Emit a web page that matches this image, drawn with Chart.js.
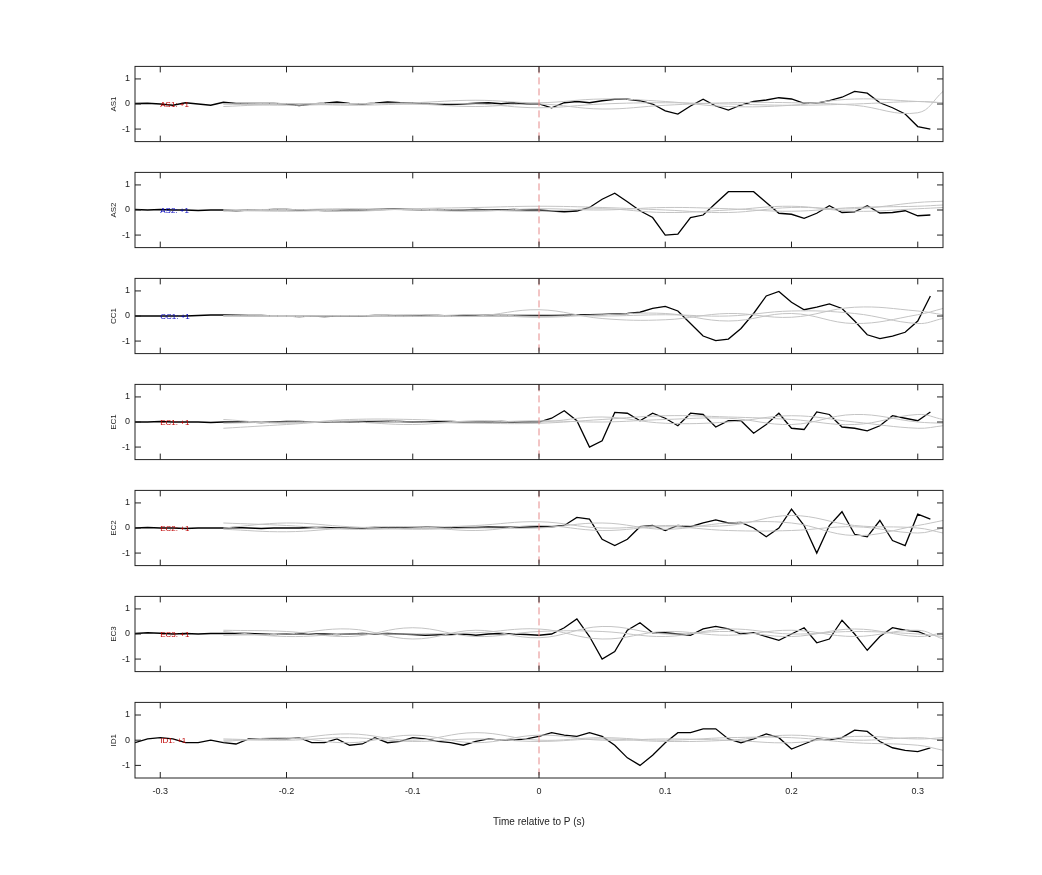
<!DOCTYPE html>
<html>
<head>
<meta charset="utf-8">
<script src="https://cdn.jsdelivr.net/npm/chart.js@4/dist/chart.umd.min.js"></script>
<style>
  body { margin: 0; background: #fff; }
  .panel { position: absolute; left: 0; width: 1042px; }
</style>
</head>
<body>
<div id="wrap"></div>
<script>
// station names and label colours
const stations = ['AS1', 'AS2', 'CC1', 'EC1', 'EC2', 'EC3', 'ID1'];
const labelColors = ['#c00000', '#0000c0', '#0000c0', '#c00000', '#c00000', '#c00000', '#c00000'];
const xTicks = [-0.3, -0.2, -0.1, 0, 0.1, 0.2, 0.3];
const yTicks = [-1, 0, 1];

// sample times -0.32 .. 0.31 in steps of 0.01
const times = Array.from({ length: 64 }, (_, i) => Math.round((i - 32)) / 100);

// black traces (64 values each)
const traceAS1 = [0.02, 0.03, 0.0, -0.05, 0.05, 0.0, -0.05, 0.07, 0.02, 0.02, 0.02, 0.02, 0.0, -0.06, 0.0, 0.03, 0.08, 0.02, 0.0, 0.03, 0.08, 0.05, 0.04, 0.02, 0.0, -0.02, 0.0, 0.03, 0.05, 0.01, 0.05, 0.0,
  0.0, -0.15, 0.05, 0.1, 0.05, 0.13, 0.19, 0.19, 0.13, 0.0, -0.27, -0.4, -0.08, 0.19, -0.08, -0.24, -0.04, 0.1, 0.16, 0.25, 0.2, 0.03, 0.03, 0.13, 0.27, 0.5, 0.43, 0.05, -0.15, -0.4, -0.9, -1.0];
const traceAS2 = [0.02, 0.0, 0.02, 0.0, 0.0, -0.02, 0.0, 0.0, -0.03, 0.0, 0.0, 0.02, 0.02, 0.0, 0.0, -0.02, -0.02, 0.0, 0.0, 0.02, 0.03, 0.03, 0.02, 0.0, 0.02, 0.0, 0.0, 0.02, 0.0, 0.0, 0.02, 0.0,
  0.0, -0.04, -0.07, -0.04, 0.1, 0.43, 0.67, 0.33, -0.03, -0.3, -1.0, -0.96, -0.3, -0.2, 0.27, 0.73, 0.73, 0.73, 0.3, -0.13, -0.17, -0.33, -0.13, 0.17, -0.1, -0.07, 0.17, -0.12, -0.1, -0.03, -0.23, -0.2];
const traceCC1 = [0.0, 0.0, 0.0, 0.0, 0.0, 0.02, 0.04, 0.04, 0.03, 0.02, 0.02, 0.0, 0.0, -0.02, 0.0, -0.02, 0.0, 0.0, 0.0, 0.02, 0.02, 0.0, 0.0, 0.02, 0.02, 0.0, 0.02, 0.02, 0.03, 0.02, 0.02, 0.02,
  0.02, 0.02, 0.03, 0.04, 0.05, 0.06, 0.08, 0.1, 0.15, 0.3, 0.38, 0.2, -0.3, -0.8, -0.98, -0.92, -0.5, 0.1, 0.8, 0.98, 0.55, 0.25, 0.35, 0.48, 0.3, -0.2, -0.75, -0.9, -0.8, -0.65, -0.2, 0.8];
const traceEC1 = [0.0, 0.0, 0.02, 0.0, 0.0, 0.0, -0.02, 0.0, 0.0, 0.0, -0.02, 0.0, 0.02, 0.02, 0.0, 0.0, 0.02, 0.0, 0.0, 0.02, 0.03, 0.02, 0.0, 0.0, 0.02, 0.02, 0.0, 0.0, 0.0, 0.02, 0.0, 0.0,
  0.0, 0.15, 0.45, 0.05, -1.0, -0.75, 0.38, 0.35, 0.05, 0.35, 0.15, -0.15, 0.35, 0.3, -0.2, 0.05, 0.05, -0.45, -0.1, 0.35, -0.25, -0.3, 0.4, 0.3, -0.2, -0.25, -0.35, -0.15, 0.25, 0.15, 0.05, 0.4];
const traceEC2 = [0.0, 0.02, 0.0, 0.0, -0.02, 0.0, 0.0, 0.0, 0.02, 0.0, -0.02, 0.0, 0.0, 0.0, 0.02, 0.02, 0.0, 0.0, 0.0, 0.02, 0.0, 0.0, 0.02, 0.03, 0.02, 0.0, 0.02, 0.02, 0.04, 0.03, 0.03, 0.04,
  0.05, 0.05, 0.1, 0.42, 0.35, -0.45, -0.7, -0.45, 0.05, 0.1, -0.1, 0.1, 0.05, 0.2, 0.32, 0.2, 0.22, 0.0, -0.35, 0.0, 0.75, 0.1, -1.0, 0.1, 0.65, -0.25, -0.35, 0.3, -0.5, -0.7, 0.55, 0.35];
const traceEC3 = [0.02, 0.05, 0.03, 0.0, 0.02, 0.0, 0.02, 0.02, 0.03, 0.02, 0.0, -0.02, 0.0, 0.02, 0.0, 0.0, -0.02, 0.0, 0.02, 0.0, 0.02, 0.0, -0.02, -0.05, -0.03, -0.02, 0.0, -0.05, 0.0, 0.02, 0.0, -0.02,
  -0.05, 0.0, 0.25, 0.6, -0.1, -1.0, -0.7, 0.15, 0.45, 0.05, 0.05, 0.0, -0.05, 0.2, 0.3, 0.2, 0.0, 0.05, -0.1, -0.25, 0.0, 0.25, -0.35, -0.2, 0.55, 0.0, -0.65, -0.1, 0.25, 0.15, 0.1, -0.1];
const traceID1 = [-0.1, 0.05, 0.1, 0.05, -0.1, -0.1, 0.0, -0.1, -0.15, 0.05, 0.05, 0.05, 0.05, 0.1, -0.1, -0.1, 0.05, -0.2, -0.15, 0.1, -0.1, -0.05, 0.1, 0.05, -0.05, -0.1, -0.2, -0.05, 0.05, 0.0, 0.0, 0.05,
  0.15, 0.3, 0.2, 0.15, 0.3, 0.15, -0.2, -0.7, -1.0, -0.6, -0.1, 0.3, 0.3, 0.45, 0.45, 0.05, -0.1, 0.05, 0.25, 0.1, -0.35, -0.15, 0.05, 0.0, 0.1, 0.4, 0.35, -0.05, -0.3, -0.4, -0.45, -0.3];
const traces = [traceAS1, traceAS2, traceCC1, traceEC1, traceEC2, traceEC3, traceID1];

// grey comparison traces, sampled every 0.05 s
const greyTimes = [-0.25, -0.2, -0.15, -0.1, -0.05, 0, 0.05, 0.1, 0.15, 0.2, 0.25, 0.3, 0.32];
const greyAS1 = [
  [0.0, -0.05, 0.0, 0.05, 0.15, 0.05, 0.2, 0.1, -0.1, -0.05, 0.2, 0.1, 0.05],
  [-0.1, 0.0, 0.02, 0.0, -0.1, 0.0, -0.2, -0.05, 0.05, 0.05, -0.05, -0.35, 0.5],
  [0.0, 0.02, -0.05, 0.0, 0.0, -0.15, 0.0, 0.05, 0.0, -0.05, 0.0, 0.1, 0.05]
];
const greyAS2 = [
  [0.0, 0.02, -0.05, 0.05, 0.1, 0.15, 0.1, 0.0, -0.1, 0.1, 0.05, 0.3, 0.35],
  [-0.05, 0.0, 0.05, 0.0, -0.05, 0.05, 0.0, 0.1, 0.05, -0.05, 0.1, 0.15, 0.2],
  [0.0, -0.05, 0.0, 0.02, 0.0, -0.05, 0.05, -0.1, 0.0, 0.15, -0.05, 0.05, 0.1]
];
const greyCC1 = [
  [0.0, 0.02, 0.0, 0.05, 0.0, 0.25, -0.1, -0.15, 0.1, -0.05, 0.35, 0.2, 0.05],
  [0.0, -0.02, 0.0, -0.02, 0.05, -0.05, 0.05, 0.1, -0.2, 0.1, -0.3, 0.05, 0.3],
  [0.0, 0.0, 0.02, 0.0, -0.02, 0.05, 0.0, 0.05, 0.0, 0.2, 0.1, -0.3, -0.1]
];
const greyEC1 = [
  [-0.25, -0.1, 0.05, 0.0, -0.05, -0.05, 0.1, 0.25, 0.2, 0.1, -0.1, 0.3, 0.1],
  [0.1, -0.05, 0.1, 0.1, 0.0, 0.05, 0.0, 0.1, 0.15, -0.1, 0.3, 0.0, -0.05],
  [-0.05, 0.0, 0.0, -0.1, 0.05, 0.0, 0.2, -0.05, 0.0, 0.25, 0.0, -0.25, -0.15]
];
const greyEC2 = [
  [0.2, 0.1, -0.05, 0.0, 0.1, 0.25, 0.0, 0.1, 0.1, 0.5, 0.1, 0.0, -0.2],
  [0.0, 0.2, 0.05, -0.05, 0.0, 0.0, 0.2, -0.05, 0.2, 0.2, -0.3, 0.1, 0.3],
  [-0.05, -0.15, 0.0, 0.05, -0.1, 0.1, -0.1, 0.05, -0.1, -0.1, 0.05, -0.2, 0.0]
];
const greyEC3 = [
  [0.15, 0.1, -0.1, 0.25, -0.1, 0.1, 0.1, -0.1, 0.2, 0.0, 0.1, 0.0, -0.1],
  [-0.05, 0.0, 0.2, -0.2, 0.15, -0.15, 0.3, 0.0, 0.1, -0.1, 0.2, -0.1, 0.05],
  [0.1, -0.1, 0.0, 0.0, 0.05, 0.2, -0.2, 0.1, -0.05, 0.15, -0.1, 0.15, -0.2]
];
const greyID1 = [
  [0.0, 0.05, 0.25, 0.0, 0.3, 0.0, 0.1, 0.0, 0.1, 0.1, -0.1, -0.2, -0.4],
  [-0.05, 0.1, -0.1, 0.2, -0.1, 0.2, 0.0, 0.05, 0.0, -0.1, 0.15, 0.05, 0.1],
  [0.05, 0.0, 0.1, -0.05, 0.05, -0.05, 0.05, -0.05, 0.0, 0.2, 0.0, 0.1, 0.0]
];
const greys = [greyAS1, greyAS2, greyCC1, greyEC1, greyEC2, greyEC3, greyID1];

const panelFrame = {
  id: 'panelFrame',
  afterDraw(chart, args, opts) {
    const { ctx, chartArea: a, scales } = chart;
    ctx.save();
    // dashed marker at P
    const x0 = scales.x.getPixelForValue(0);
    ctx.strokeStyle = '#e68a8a';
    ctx.lineWidth = 1;
    ctx.setLineDash([7, 4]);
    ctx.beginPath();
    ctx.moveTo(x0, a.top);
    ctx.lineTo(x0, a.bottom);
    ctx.stroke();
    ctx.setLineDash([]);
    // frame and inward ticks
    ctx.strokeStyle = '#222';
    ctx.strokeRect(a.left, a.top, a.right - a.left, a.bottom - a.top);
    ctx.beginPath();
    xTicks.forEach(t => {
      const px = scales.x.getPixelForValue(t);
      ctx.moveTo(px, a.top); ctx.lineTo(px, a.top + 6);
      ctx.moveTo(px, a.bottom); ctx.lineTo(px, a.bottom - 6);
    });
    yTicks.forEach(t => {
      const py = scales.y.getPixelForValue(t);
      ctx.moveTo(a.left, py); ctx.lineTo(a.left + 6, py);
      ctx.moveTo(a.right, py); ctx.lineTo(a.right - 6, py);
    });
    ctx.stroke();
    // station label text
    const y0 = scales.y.getPixelForValue(0);
    ctx.font = '8px "Liberation Sans", Arial, sans-serif';
    ctx.fillStyle = opts.color;
    ctx.textBaseline = 'middle';
    ctx.fillText(opts.name + ': +1', scales.x.getPixelForValue(-0.3), y0 + 1);
    ctx.fillStyle = '#222';
    ctx.translate(a.left - 21, (a.top + a.bottom) / 2);
    ctx.rotate(-Math.PI / 2);
    ctx.textAlign = 'center';
    ctx.fillText(opts.name, 0, 0);
    ctx.restore();
  }
};

const wrap = document.getElementById('wrap');
stations.forEach((name, i) => {
  const last = i === stations.length - 1;
  const canvas = document.createElement('canvas');
  canvas.className = 'panel';
  const h = last ? 140 : 96;
  canvas.style.top = (56 + 106 * i) + 'px';
  canvas.style.height = h + 'px';
  canvas.width = 1042;
  canvas.height = h;
  wrap.appendChild(canvas);

  const datasets = greys[i].map(g => ({
    data: greyTimes.map((t, k) => ({ x: t, y: g[k] })),
    borderColor: '#c4c4c4',
    borderWidth: 1,
    pointRadius: 0,
    tension: 0.4
  }));
  datasets.push({
    data: times.map((t, k) => ({ x: t, y: traces[i][k] })),
    borderColor: '#000',
    borderWidth: 1.3,
    pointRadius: 0,
    tension: 0
  });

  const xScale = {
    type: 'linear',
    min: -0.32, max: 0.32,
    display: last,
    afterBuildTicks: s => { s.ticks = xTicks.map(v => ({ value: v })); },
    grid: { display: false, drawTicks: false },
    border: { display: false },
    ticks: {
      padding: 8,
      color: '#222',
      font: { size: 9, family: '"Liberation Sans", Arial, sans-serif' },
      callback: v => String(Math.round(v * 10) / 10)
    },
    title: {
      display: true,
      text: 'Time relative to P (s)',
      color: '#222',
      padding: { top: 8 },
      font: { size: 10, family: '"Liberation Sans", Arial, sans-serif' }
    }
  };
  if (last) xScale.afterFit = s => { s.height = 54; };

  new Chart(canvas, {
    type: 'line',
    data: { datasets },
    plugins: [panelFrame],
    options: {
      responsive: false,
      animation: false,
      layout: { padding: { top: 10, right: 99, bottom: last ? 0 : 10, left: 0 } },
      plugins: {
        legend: { display: false },
        tooltip: { enabled: false },
        panelFrame: { name, color: labelColors[i] }
      },
      scales: {
        x: xScale,
        y: {
          min: -1.5, max: 1.5,
          afterBuildTicks: s => { s.ticks = yTicks.map(v => ({ value: v })); },
          afterFit: s => { s.width = 135; },
          grid: { display: false, drawTicks: false },
          border: { display: false },
          ticks: {
            padding: 5,
            color: '#222',
            font: { size: 9, family: '"Liberation Sans", Arial, sans-serif' }
          }
        }
      }
    }
  });
});
</script>
</body>
</html>
